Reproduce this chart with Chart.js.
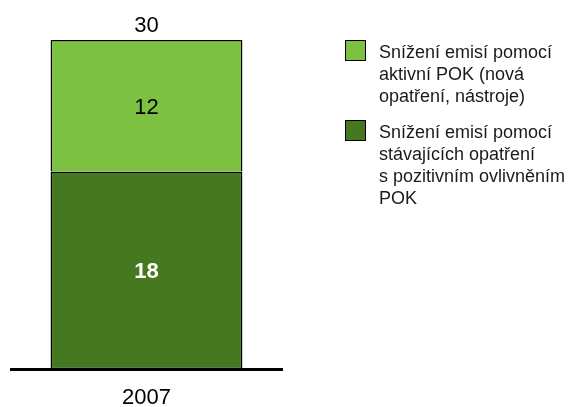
<!DOCTYPE html>
<html>
<head>
<meta charset="utf-8">
<script src="https://cdn.jsdelivr.net/npm/chart.js@4"></script>
<style>
  html, body { margin: 0; padding: 0; background: #fff; }
  #wrap { position: relative; width: 569px; height: 407px; }
  #legend { position: absolute; left: 345px; top: 41px; width: 224px;
    font-family: 'Liberation Sans', Arial, sans-serif; font-size: 18px; line-height: 22px; color: #1a1a1a; }
  .item { position: relative; padding-left: 34px; margin-bottom: 14px; white-space: nowrap; }
  .box { position: absolute; left: 0; top: -1px; width: 19px; height: 19px; border: 1px solid #000; }
</style>
</head>
<body>
<div id="wrap">
  <canvas id="grafico" width="569" height="407"></canvas>
  <div id="legend"></div>
</div>
<script>
// datos del grafico
const roky = ['2007'];
const nazvySerii = [
  ['Snížení emisí pomocí', 'aktivní POK (nová', 'opatření, nástroje)'],
  ['Snížení emisí pomocí', 'stávajících opatření', 's pozitivním ovlivněním', 'POK']
];
const aktivniPOK = [12];
const stavajiciOpatreni = [18];
const barvy = ['#7dc142', '#467820'];

const celkem = roky.map((r, i) => aktivniPOK[i] + stavajiciOpatreni[i]);

/**
 * Etiquetas de valores dentro y encima de la barra
 */
const etiquetasPlugin = {
  id: 'etiquetas',
  afterDatasetsDraw(chart) {
    const ctx = chart.ctx;
    ctx.save();
    ctx.textAlign = 'center';
    ctx.textBaseline = 'middle';
    chart.data.datasets.forEach((ds, di) => {
      const meta = chart.getDatasetMeta(di);
      meta.data.forEach((bar, i) => {
        const mid = (bar.y + bar.base) / 2 + 2;
        ctx.font = ds.labelBold ? 'bold 22px "Liberation Sans", Arial' : '22px "Liberation Sans", Arial';
        ctx.fillStyle = ds.labelColor;
        ctx.fillText(String(ds.data[i]), bar.x, mid);
      });
    });
    // total encima
    const top = chart.getDatasetMeta(1);
    top.data.forEach((bar, i) => {
      ctx.font = '22px "Liberation Sans", Arial';
      ctx.fillStyle = '#000';
      ctx.fillText(String(celkem[i]), bar.x, bar.y - 14);
    });
    ctx.restore();
  }
};

const chart = new Chart(document.getElementById('grafico'), {
  type: 'bar',
  data: {
    labels: roky,
    datasets: [
      {
        label: nazvySerii[1].join(' '),
        data: stavajiciOpatreni,
        backgroundColor: barvy[1],
        borderSkipped: false,
        labelColor: '#fff',
        labelBold: true
      },
      {
        label: nazvySerii[0].join(' '),
        data: aktivniPOK,
        backgroundColor: barvy[0],
        borderSkipped: 'bottom',
        labelColor: '#000',
        labelBold: false
      }
    ]
  },
  options: {
    responsive: false,
    animation: false,
    layout: { padding: { left: 11, right: 287, top: 40, bottom: -20 } },
    datasets: {
      bar: {
        borderColor: '#000',
        borderWidth: 1.5,
        categoryPercentage: 1,
        barPercentage: 0.708
      }
    },
    scales: {
      x: {
        stacked: true,
        grid: { display: false, drawTicks: false },
        border: { display: true, color: '#000', width: 3 },
        ticks: {
          color: '#000',
          padding: 18,
          font: { family: 'Liberation Sans', size: 22, lineHeight: 1 }
        }
      },
      y: {
        stacked: true,
        display: false,
        min: 0,
        max: 30
      }
    },
    plugins: {
      legend: { display: false },
      tooltip: { enabled: false }
    }
  },
  plugins: [etiquetasPlugin]
});

// leyenda en HTML
const legend = document.getElementById('legend');
nazvySerii.forEach((lines, i) => {
  const item = document.createElement('div');
  item.className = 'item';
  item.innerHTML = `<span class="box" style="background:${barvy[i]}"></span>${lines.join('<br>')}`;
  legend.appendChild(item);
});
</script>
</body>
</html>
